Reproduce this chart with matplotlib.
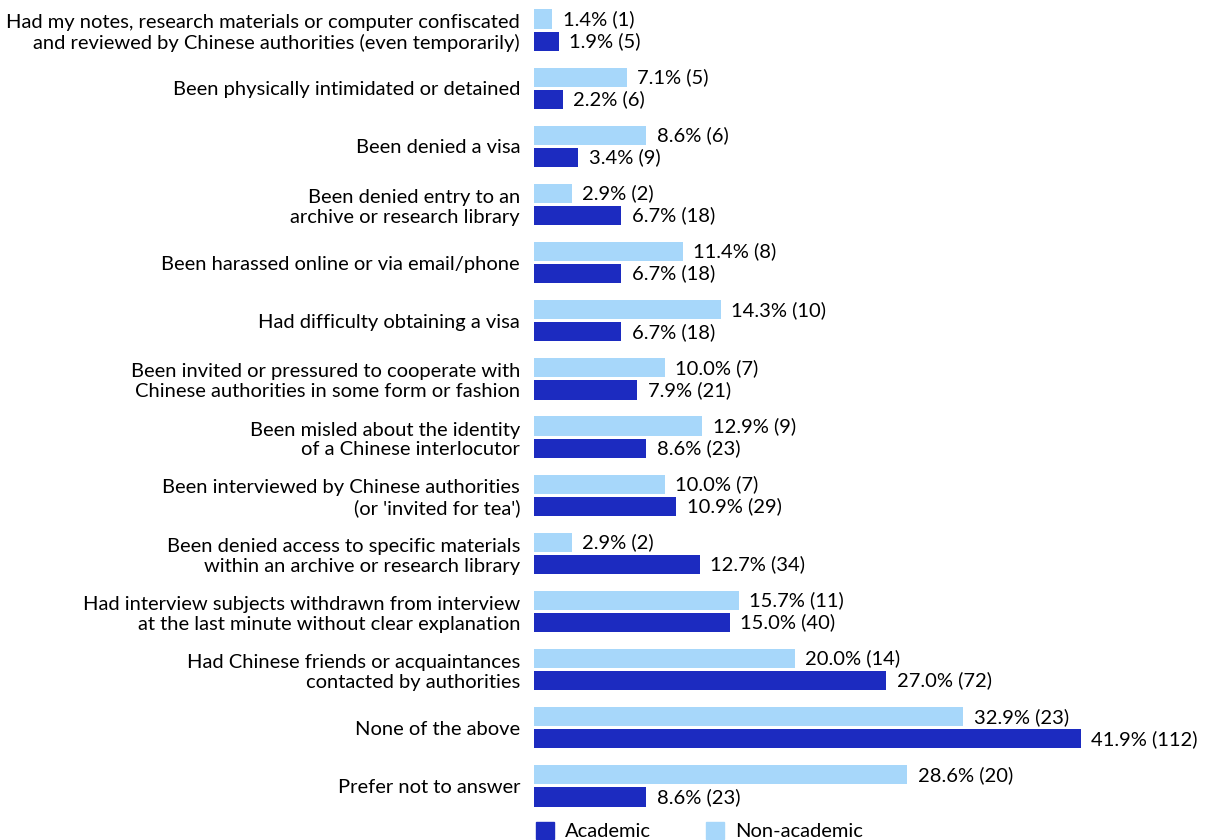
import matplotlib
matplotlib.use("Agg")
import matplotlib.pyplot as plt
from matplotlib.patches import Patch
import numpy as np

plt.rcParams["font.family"] = ["Lato", "DejaVu Sans"]

categories = [
    "Had my notes, research materials or computer confiscated\nand reviewed by Chinese authorities (even temporarily)",
    "Been physically intimidated or detained",
    "Been denied a visa",
    "Been denied entry to an\narchive or research library",
    "Been harassed online or via email/phone",
    "Had difficulty obtaining a visa",
    "Been invited or pressured to cooperate with\nChinese authorities in some form or fashion",
    "Been misled about the identity\nof a Chinese interlocutor",
    "Been interviewed by Chinese authorities\n(or 'invited for tea')",
    "Been denied access to specific materials\nwithin an archive or research library",
    "Had interview subjects withdrawn from interview\nat the last minute without clear explanation",
    "Had Chinese friends or acquaintances\ncontacted by authorities",
    "None of the above",
    "Prefer not to answer",
]

non_academic_pct = [1.4, 7.1, 8.6, 2.9, 11.4, 14.3, 10.0, 12.9, 10.0, 2.9, 15.7, 20.0, 32.9, 28.6]
non_academic_n = [1, 5, 6, 2, 8, 10, 7, 9, 7, 2, 11, 14, 23, 20]
academic_pct = [1.9, 2.2, 3.4, 6.7, 6.7, 6.7, 7.9, 8.6, 10.9, 12.7, 15.0, 27.0, 41.9, 8.6]
academic_n = [5, 6, 9, 18, 18, 18, 21, 23, 29, 34, 40, 72, 112, 23]

DARK = "#1c2bc0"
LIGHT = "#a7d7fa"
FS = 14.5

fig = plt.figure(figsize=(12.14, 8.40), dpi=100)
ax = fig.add_axes([534 / 1214, 25 / 840, 680 / 1214, 814 / 840])

y = np.arange(len(categories))
h = 0.33
off = 0.19

ax.barh(y - off, non_academic_pct, height=h, color=LIGHT)
ax.barh(y + off, academic_pct, height=h, color=DARK)

# value labels: "pct% (count)" just past each bar end
for yi, p, n in zip(y, non_academic_pct, non_academic_n):
    ax.annotate(f"{p:.1f}% ({n})", (p, yi - off), xytext=(7.5, 0),
                textcoords="offset points", va="center", ha="left", fontsize=FS)
for yi, p, n in zip(y, academic_pct, academic_n):
    ax.annotate(f"{p:.1f}% ({n})", (p, yi + off), xytext=(7.5, 0),
                textcoords="offset points", va="center", ha="left", fontsize=FS)

ax.set_xlim(0, 52.1)
ax.set_ylim(len(categories) - 0.5, -0.5)
ax.set_yticks(y)
ax.set_yticklabels(categories, fontsize=FS, linespacing=1.2)
ax.tick_params(axis="y", length=0, pad=10)
ax.set_xticks([])
for s in ax.spines.values():
    s.set_visible(False)

handles = [Patch(color=DARK, label="Academic"), Patch(color=LIGHT, label="Non-academic")]
fig.legend(handles=handles, loc="lower left", bbox_to_anchor=(518 / 1214, -0.022),
           ncol=2, frameon=False, fontsize=FS, handlelength=0.9, handleheight=0.9,
           handletextpad=0.55, columnspacing=2.7)

fig.savefig("out.png", dpi=100)
